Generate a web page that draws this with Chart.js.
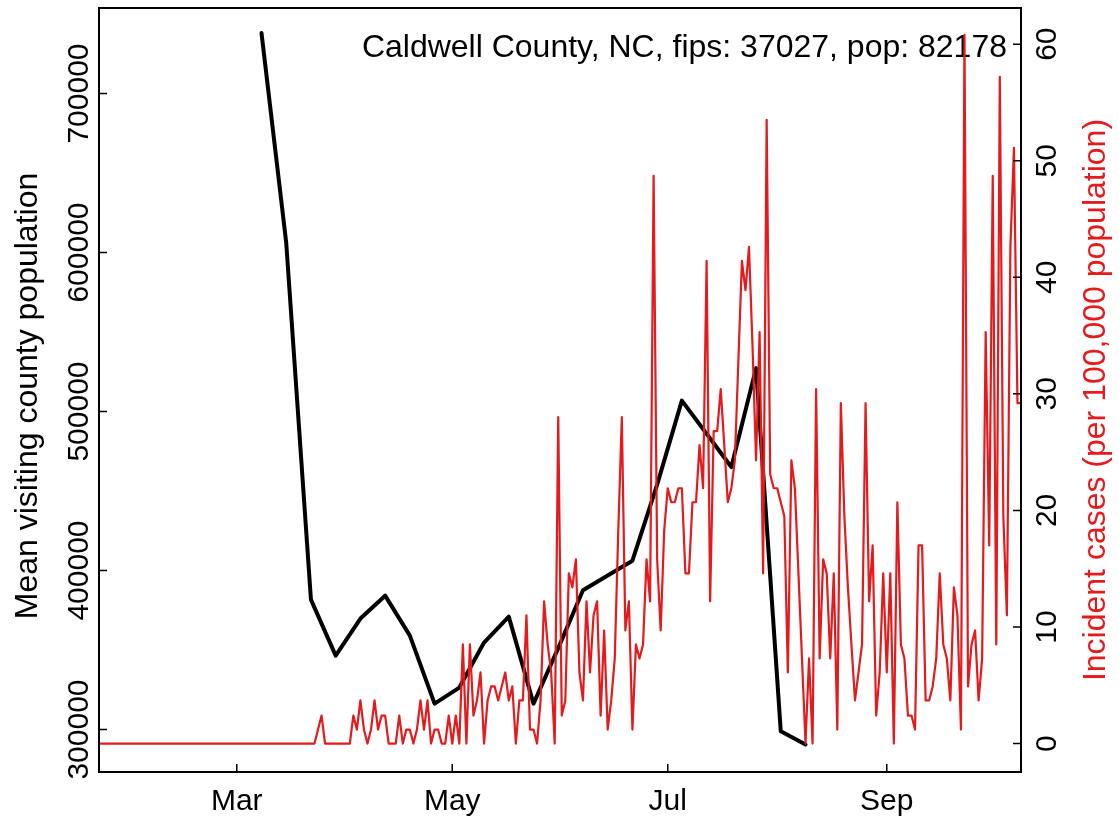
<!DOCTYPE html>
<html>
<head>
<meta charset="utf-8">
<title>Caldwell County, NC</title>
<script src="https://cdn.jsdelivr.net/npm/chart.js@4.4.1/dist/chart.umd.min.js"></script>
<style>
    html, body { margin: 0; padding: 0; background: #fff; }
    #chart { display: block; }
</style>
</head>
<body>
<canvas id="chart" width="1119" height="822"></canvas>
<script>
// x values are days counted from 2020-01-22
const monthTickDays = [39, 100, 161, 223];
const monthTickLabels = ['Mar', 'May', 'Jul', 'Sep'];

// weekly mean visiting population (black line)
const visitDays = [46, 53, 60, 67, 74, 81, 88, 95, 102, 109, 116, 123, 130, 137, 144, 151, 158, 165, 172, 179, 186, 193, 200];
const visitValues = [738100, 606100, 381700, 346500, 369800, 384200, 359100, 316300, 326400, 354700, 371000, 316300,
    351200, 387600, 396900, 406200, 454000, 506900, 486000, 465100, 527300, 298900, 290600];

// daily incident cases per 100,000 (red line), day 0 .. 261
const caseValues = [
    0, 0, 0, 0, 0, 0, 0, 0, 0, 0, 0, 0, 0, 0, 0, 0, 0, 0, 0, 0,
    0, 0, 0, 0, 0, 0, 0, 0, 0, 0, 0, 0, 0, 0, 0, 0, 0, 0, 0, 0,
    0, 0, 0, 0, 0, 0, 0, 0, 0, 0, 0, 0, 0, 0, 0, 0, 0, 0, 0, 0, 0,
    0, 1.2, 2.4, 0, 0, 0, 0, 0, 0, 0,
    0, 2.4, 1.2, 3.7, 1.2, 0, 1.2, 3.7, 1.2, 2.4,
    2.4, 0, 0, 0, 2.4, 0, 1.2, 1.2, 0, 1.2,
    3.7, 1.2, 3.7, 0, 1.2, 1.2, 0, 0, 2.4, 0,
    2.4, 0, 8.5, 0, 8.5, 2.4, 3.7, 6.1, 0, 3.7,
    4.9, 4.9, 3.7, 4.9, 6.1, 3.7, 4.9, 0, 3.7, 3.7,
    11.0, 1.2, 1.2, 0, 3.7, 12.2, 8.5, 6.1, 0, 28.0,
    2.4, 3.7, 14.6, 13.4, 15.8, 6.1, 3.7, 12.2, 6.1, 11.0,
    12.2, 2.4, 9.7, 1.2, 3.7, 7.3, 18.3, 28.0, 9.7, 12.2,
    1.2, 8.5, 7.3, 8.5, 15.8, 12.2, 48.7, 15.8, 9.7, 18.3,
    21.9, 20.7, 20.7, 21.9, 21.9, 14.6, 14.6, 20.7, 20.7, 25.6,
    21.9, 41.4, 12.2, 26.8, 26.8, 30.4, 25.6, 20.7, 21.9, 24.3,
    32.9, 41.4, 38.9, 42.6, 34.1, 24.3, 35.3, 14.6, 53.5, 23.1,
    21.9, 21.9, 20.7, 19.5, 6.1, 24.3, 21.9, 14.6, 7.3, 0,
    7.3, 0, 30.4, 7.3, 15.8, 14.6, 7.3, 14.6, 1.2, 29.2,
    19.5, 13.4, 8.5, 3.7, 6.1, 8.5, 29.2, 12.2, 17.0, 2.4,
    6.1, 14.6, 6.1, 14.6, 0, 20.7, 8.5, 7.3, 2.4, 2.4,
    1.2, 17.0, 17.0, 3.7, 3.7, 4.9, 7.3, 14.6, 8.5, 7.3,
    3.7, 13.4, 11.0, 1.2, 60.8, 4.9, 8.5, 9.7, 3.7, 7.3,
    35.3, 17.0, 48.7, 8.5, 57.2, 19.5, 11.0, 42.6, 51.1, 29.2, 29.2
];

const leftTicks = [300000, 400000, 500000, 600000, 700000];
const rightTicks = [0, 10, 20, 30, 40, 50, 60];

const titleText = 'Caldwell County, NC, fips: 37027, pop: 82178';
const leftTitle = 'Mean visiting county population';
const rightTitle = 'Incident cases (per 100,000 population)';

const FAMILY = '"Liberation Sans", Arial, Helvetica, sans-serif';
const TICK_FONT = '30px ' + FAMILY;
const LAB_FONT = '32px ' + FAMILY;
const RED = '#E41A1C';
const TICK = 8;

function upText(ctx, text, x, y) {
    ctx.save();
    ctx.translate(x, y);
    ctx.rotate(-Math.PI / 2);
    ctx.textAlign = 'center';
    ctx.textBaseline = 'alphabetic';
    ctx.fillText(text, 0, 0);
    ctx.restore();
}

const rFrame = {
    id: 'rFrame',
    beforeDatasetsDraw(chart) {
        const ctx = chart.ctx;
        const a = chart.chartArea;
        ctx.save();
        ctx.font = LAB_FONT;
        ctx.fillStyle = '#000';
        ctx.textAlign = 'right';
        ctx.textBaseline = 'alphabetic';
        ctx.fillText(titleText, a.right - 14, a.top + 49);
        ctx.restore();
    },
    afterDraw(chart) {
        const ctx = chart.ctx;
        const a = chart.chartArea;
        const x = chart.scales.x;
        const y = chart.scales.y;
        const y2 = chart.scales.y2;
        const midY = (a.top + a.bottom) / 2 + 6;

        ctx.save();
        ctx.strokeStyle = '#000';
        ctx.lineWidth = 2;
        ctx.strokeRect(a.left, a.top, a.right - a.left, a.bottom - a.top);

        // R style ticks, pointing inward
        ctx.lineWidth = 1.5;
        ctx.beginPath();
        x.ticks.forEach(t => {
            const px = x.getPixelForValue(t.value);
            ctx.moveTo(px, a.bottom);
            ctx.lineTo(px, a.bottom - TICK);
        });
        y.ticks.forEach(t => {
            const py = y.getPixelForValue(t.value);
            ctx.moveTo(a.left, py);
            ctx.lineTo(a.left + TICK, py);
        });
        y2.ticks.forEach(t => {
            const py = y2.getPixelForValue(t.value);
            ctx.moveTo(a.right, py);
            ctx.lineTo(a.right - TICK, py);
        });
        ctx.stroke();

        ctx.font = TICK_FONT;
        ctx.fillStyle = '#000';
        ctx.textAlign = 'center';
        ctx.textBaseline = 'alphabetic';
        x.ticks.forEach((t, i) => {
            ctx.fillText(monthTickLabels[i], x.getPixelForValue(t.value), a.bottom + 38);
        });
        y.ticks.forEach(t => upText(ctx, String(t.value), a.left - 11, y.getPixelForValue(t.value)));
        y2.ticks.forEach(t => upText(ctx, String(t.value), a.right + 35, y2.getPixelForValue(t.value)));

        ctx.font = LAB_FONT;
        upText(ctx, leftTitle, 37, midY);
        ctx.fillStyle = RED;
        upText(ctx, rightTitle, a.right + 84, midY + 4);
        ctx.restore();
    }
};

const ctxChart = document.getElementById('chart').getContext('2d');
new Chart(ctxChart, {
    type: 'line',
    data: {
        datasets: [{
            label: 'Incident cases',
            data: caseValues.map((v, i) => ({x: i, y: v})),
            yAxisID: 'y2',
            borderColor: RED,
            borderWidth: 2.2,
            pointRadius: 0,
            tension: 0,
            borderJoinStyle: 'round',
            order: 0
        }, {
            label: 'Mean visiting county population',
            data: visitDays.map((d, i) => ({x: d, y: visitValues[i]})),
            yAxisID: 'y',
            borderColor: '#000',
            borderWidth: 4,
            pointRadius: 0,
            tension: 0,
            borderJoinStyle: 'round',
            borderCapStyle: 'round',
            order: 1
        }]
    },
    options: {
        responsive: false,
        animation: false,
        devicePixelRatio: 1,
        events: [],
        layout: {padding: {top: 8, left: 0, right: 0, bottom: 0}},
        plugins: {
            legend: {display: false},
            tooltip: {enabled: false}
        },
        scales: {
            x: {
                type: 'linear',
                position: 'bottom',
                min: 0,
                max: 261,
                grid: {display: false},
                border: {display: false},
                ticks: {display: false},
                afterBuildTicks: scale => { scale.ticks = monthTickDays.map(v => ({value: v})); },
                afterFit: scale => { scale.height = 50; }
            },
            y: {
                type: 'linear',
                position: 'left',
                min: 273300,
                max: 753800,
                grid: {display: false},
                border: {display: false},
                ticks: {display: false},
                afterBuildTicks: scale => { scale.ticks = leftTicks.map(v => ({value: v})); },
                afterFit: scale => { scale.width = 99; }
            },
            y2: {
                type: 'linear',
                position: 'right',
                min: -2.44,
                max: 63.1,
                grid: {display: false},
                border: {display: false},
                ticks: {display: false},
                afterBuildTicks: scale => { scale.ticks = rightTicks.map(v => ({value: v})); },
                afterFit: scale => { scale.width = 98; }
            }
        }
    },
    plugins: [rFrame]
});
</script>
</body>
</html>
